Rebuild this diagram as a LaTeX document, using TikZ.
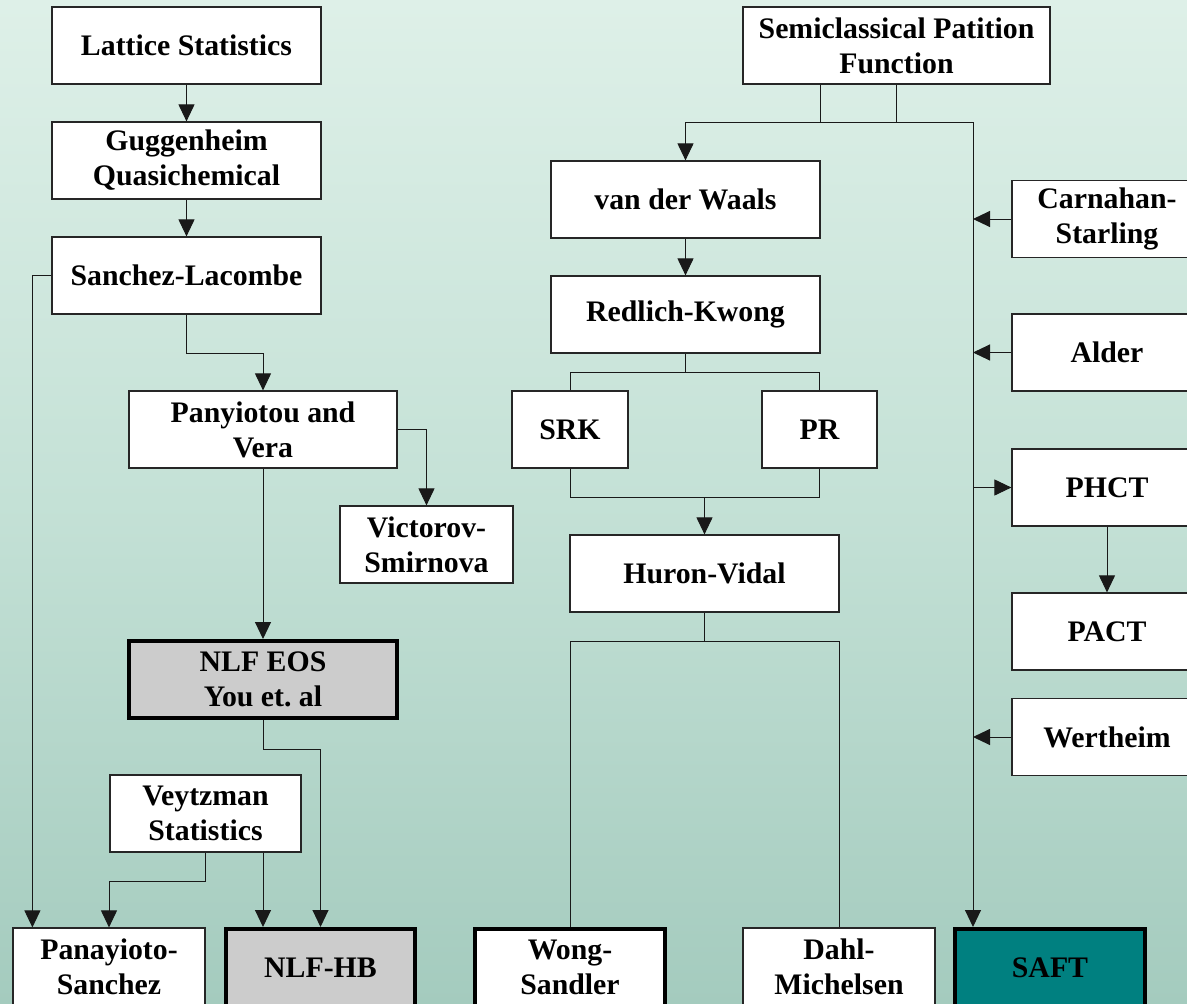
\documentclass[tikz,border=0pt]{standalone}
\usepackage{fontspec}
\setmainfont{Liberation Serif}
\usetikzlibrary{arrows.meta,calc}
\definecolor{bgtop}{RGB}{222,240,232}
\definecolor{bgmid}{RGB}{196,225,214}
\definecolor{bgbot}{RGB}{164,203,190}
\definecolor{tealfill}{RGB}{0,128,128}
\definecolor{grayfill}{RGB}{204,204,204}
\tikzset{
  box/.style={draw=black!85, line width=1.2pt, fill=white, inner sep=0pt, align=center,
    font=\bfseries\fontsize{29.8}{35}\selectfont, minimum height=77pt},
  heavybox/.style={box, draw=black, line width=4pt},
  conn/.style={draw=black!90, line width=1pt},
  arr/.style={conn, -{Triangle[length=17pt,width=16pt]}}
}
\begin{document}
\frenchspacing
\begin{tikzpicture}[x=1pt,y=-1pt]
\useasboundingbox (0,0) rectangle (1187,1004);
\clip (0,0) rectangle (1187,1004);
\shade[top color=bgtop, bottom color=bgbot, middle color=bgmid] (0,0) rectangle (1187,1004);

% left column
\node[box, minimum width=269pt] (lat) at (186.5,45.5) {Lattice Statistics};
\node[box, minimum width=269pt] (gug) at (186.5,160.5) {Guggenheim\\Quasichemical};
\node[box, minimum width=269pt] (sl) at (186.5,275.5) {Sanchez-Lacombe};
\node[box, minimum width=268pt] (pv) at (263,429.5) {Panyiotou and\\Vera};
\node[box, minimum width=173pt] (vs) at (426.5,544.5) {Victorov-\\Smirnova};
\node[heavybox, fill=grayfill, minimum width=268pt] (nlf) at (263,679.5) {NLF EOS\\You et. al};
\node[box, minimum width=191pt] (vey) at (205.5,813.5) {Veytzman\\Statistics};
\node[box, minimum width=192pt] (ps) at (109,966.5) {Panayioto-\\Sanchez};
\node[heavybox, fill=grayfill, minimum width=189pt] (hb) at (320.5,967.5) {NLF-HB};

% middle column
\node[box, minimum width=307pt] (semi) at (896.5,45.5) {Semiclassical Patition\\Function};
\node[box, minimum width=269pt] (vdw) at (685.5,199.5) {van der Waals};
\node[box, minimum width=269pt] (rk) at (685.5,314.5) {Redlich-Kwong};
\node[box, minimum width=116pt] (srk) at (570,429.5) {SRK};
\node[box, minimum width=115pt] (pr) at (819.5,429.5) {PR};
\node[box, minimum width=269pt] (hv) at (704.5,573.5) {Huron-Vidal};
\node[heavybox, fill=white, minimum width=190pt] (ws) at (570,967.5) {Wong-\\Sandler};
\node[box, minimum width=192pt] (dm) at (839,966.5) {Dahl-\\Michelsen};
\node[heavybox, fill=tealfill, minimum width=190pt] (saft) at (1050,967.5) {SAFT};

% right column
\node[box, minimum width=190pt] (cs) at (1107,219) {Carnahan-\\Starling};
\node[box, minimum width=190pt] (ald) at (1107,352.5) {Alder};
\node[box, minimum width=190pt] (phct) at (1107,487.5) {PHCT};
\node[box, minimum width=190pt] (pact) at (1107,631.5) {PACT};
\node[box, minimum width=190pt] (wert) at (1107,737) {Wertheim};

% left connectors
\draw[arr] (lat.south) -- (gug.north);
\draw[arr] (gug.south) -- (sl.north);
\draw[arr] (sl.west) -| ([xshift=20pt]ps.north west);
\draw[arr] (sl.south) -- ++(0,39) -| (pv.north);
\draw[arr] (pv.east) -| (vs.north);
\draw[arr] (pv.south) -- (nlf.north);
\draw[arr] (nlf.south) -- ++(0,29) -| (hb.north);
\draw[arr] (vey.south) -- ++(0,29) -| (ps.north);
\draw[arr] (vey.south -| nlf.south) -- (hb.north -| nlf.south);

% middle connectors
\coordinate (sp) at (973,122);
\draw[conn] (semi.south) -- (semi.south |- sp);
\draw[conn] (semi.south -| vdw.east) -- (sp -| vdw.east);
\draw[arr] (sp) -| (vdw.north);
\draw[arr] (sp) -- ([xshift=20pt]saft.north west);
\draw[arr] (vdw.south) -- (rk.north);
\draw[conn] (rk.south) -- ++(0,19) coordinate (rkb);
\draw[conn] (srk.north) |- (rkb) -| (pr.north);
\draw[conn] (srk.south) -- ++(0,29) coordinate (srkb) -| (pr.south);
\draw[arr] (hv.north |- srkb) -- (hv.north);
\draw[conn] (hv.south) -- ++(0,29) coordinate (hvb);
\draw[conn] (ws.north) |- (hvb) -| (dm.north);

% right connectors
\draw[arr] (cs.west) -- (cs.west -| sp);
\draw[arr] (ald.west) -- (ald.west -| sp);
\draw[arr] (phct.west -| sp) -- (phct.west);
\draw[arr] (phct.south) -- (pact.north);
\draw[arr] (wert.west) -- (wert.west -| sp);
\end{tikzpicture}
\end{document}
